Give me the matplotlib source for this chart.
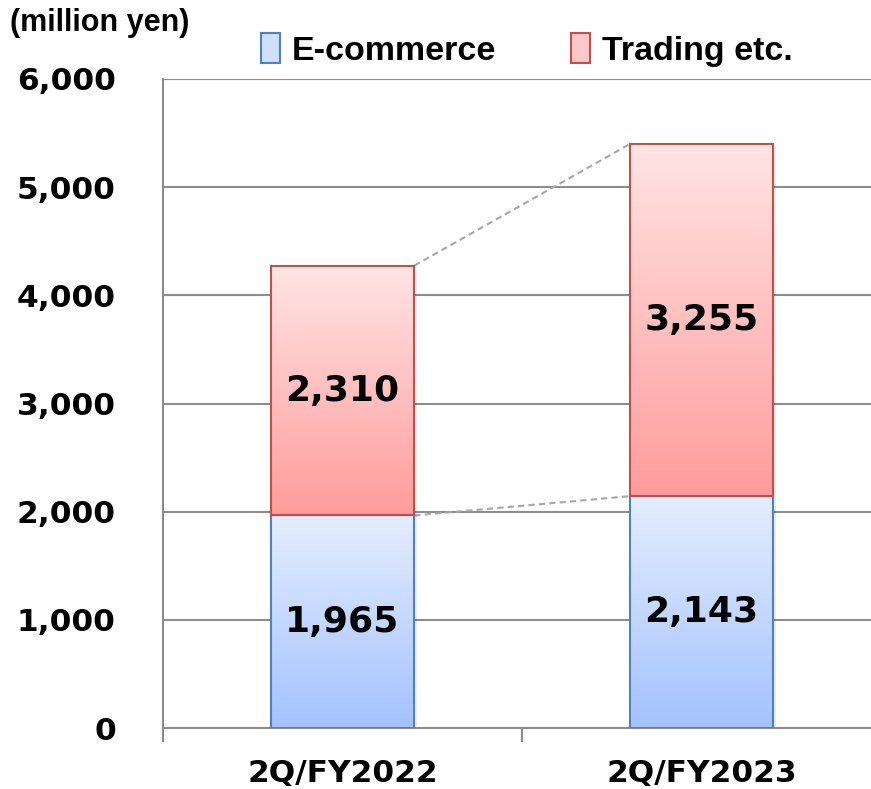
import matplotlib
matplotlib.use("Agg")
import matplotlib.pyplot as plt
import numpy as np
from matplotlib.colors import LinearSegmentedColormap
from matplotlib.patches import Rectangle, Patch

categories = ["2Q/FY2022", "2Q/FY2023"]
ecommerce = [1965, 2143]
trading = [2310, 3255]
series_names = ["E-commerce", "Trading etc."]
y_ticks = [0, 1000, 2000, 3000, 4000, 5000, 6000]

fig = plt.figure(figsize=(8.71, 7.89), dpi=100)
ax = fig.add_axes([163/871, 61/789, (881-163)/871, (728-79)/789])

x = np.arange(len(categories))
w = 0.40
blue_edge = "#4f81bd"
red_edge = "#c0504d"
bars_b = ax.bar(x, ecommerce, w, facecolor="none", edgecolor=blue_edge, linewidth=1.5, zorder=4)
bars_r = ax.bar(x, trading, w, bottom=ecommerce, facecolor="none", edgecolor=red_edge, linewidth=1.5, zorder=4)

cmap_b = LinearSegmentedColormap.from_list("b", ["#a4c2fe", "#e4edff"])
cmap_r = LinearSegmentedColormap.from_list("r", ["#ff9c9c", "#ffe4e4"])
grad = np.linspace(0, 1, 256).reshape(-1, 1)
for bars, cmap in ((bars_b, cmap_b), (bars_r, cmap_r)):
    for b in bars:
        x0, y0 = b.get_x(), b.get_y()
        bw, bh = b.get_width(), b.get_height()
        ax.add_patch(Rectangle((x0 + 0.008, y0 - 15), bw, bh, facecolor="#000000", alpha=0.08,
                               edgecolor="none", zorder=2))
        im = ax.imshow(grad, cmap=cmap, extent=[x0, x0 + bw, y0, y0 + bh], origin="lower",
                       aspect="auto", zorder=3, interpolation="bilinear")
        im.set_clip_path(Rectangle((x0, y0), bw, bh, transform=ax.transData))

tops = [e + t for e, t in zip(ecommerce, trading)]
ax.plot([x[0] + w/2, x[1] - w/2], [tops[0], tops[1]], ls=(0, (3, 2)), color="#a6a6a6", lw=1.5, zorder=1)
ax.plot([x[0] + w/2, x[1] - w/2], [ecommerce[0], ecommerce[1]], ls=(0, (3, 2)), color="#a6a6a6", lw=1.5, zorder=1)

for i in range(len(categories)):
    ax.text(x[i], ecommerce[i] / 2, f"{ecommerce[i]:,}", ha="center", va="center",
            fontsize=26, fontweight="bold", zorder=6)
    ax.text(x[i], ecommerce[i] + trading[i] / 2, f"{trading[i]:,}", ha="center", va="center",
            fontsize=26, fontweight="bold", zorder=6)

ax.set_xlim(-0.5, 1.5)
ax.set_ylim(0, 6000)
ax.set_yticks(y_ticks)
ax.set_yticklabels([f"{v:,}" for v in y_ticks], fontsize=22.5, fontweight="bold")
ax.tick_params(axis="y", length=0, pad=34)
ax.yaxis.grid(True, color="#8c8c8c", lw=1.5, zorder=0)
ax.set_axisbelow(True)
ax.set_xticks([-0.5, 0.5, 1.5])
ax.set_xticklabels([])
ax.tick_params(axis="x", length=10, width=1.5, color="#8c8c8c", direction="out")
for i, c in enumerate(categories):
    ax.text(x[i], -290, c, ha="center", va="top", fontsize=22.5, fontweight="bold")
for s in ["top", "right"]:
    ax.spines[s].set_visible(False)
for s in ["left", "bottom"]:
    ax.spines[s].set_color("#8c8c8c")
    ax.spines[s].set_linewidth(1.5)

narrow = ["Liberation Sans Narrow", "Liberation Sans", "DejaVu Sans"]
fig.text(10/871, 1 - 23/789, "(million yen)", fontsize=22, fontweight="bold", va="center", ha="left",
         family=narrow)

handles = [Patch(facecolor="#cfe0ff", edgecolor=blue_edge, lw=1.5),
           Patch(facecolor="#ffc8c8", edgecolor=red_edge, lw=1.5)]
leg = fig.legend(handles, series_names, loc="center", bbox_to_anchor=(527/871, 1 - 50/789), ncol=2,
                 frameon=False, handlelength=0.55, handleheight=0.95, handletextpad=0.35, columnspacing=2.2,
                 prop={"size": 24.5, "weight": "bold", "family": narrow})

fig.savefig("out.png", dpi=100)
